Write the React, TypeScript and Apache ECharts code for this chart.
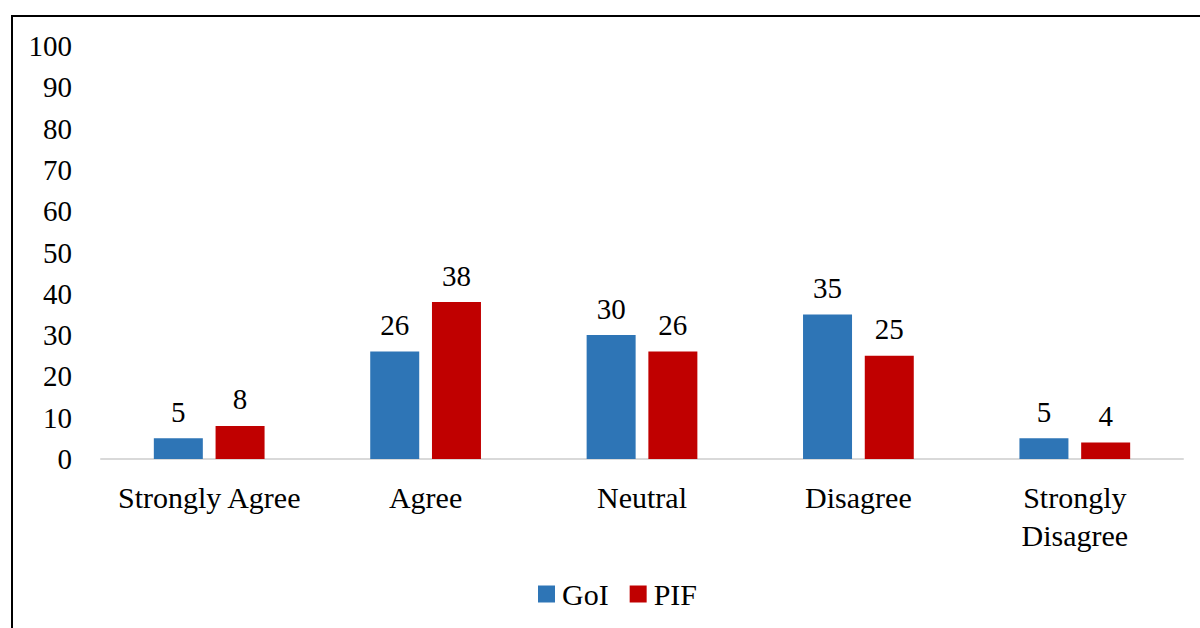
import React, { useEffect, useRef } from "react";
import * as echarts from "echarts";

const categories = ["Strongly Agree", "Agree", "Neutral", "Disagree", "Strongly\nDisagree"];
const goiValues = [5, 26, 30, 35, 5];
const pifValues = [8, 38, 26, 25, 4];
const yTicks = { min: 0, max: 100, interval: 10 };

const FONT = "'Liberation Serif', 'Times New Roman', serif";

export default function App() {
  const ref = useRef<HTMLDivElement>(null);

  useEffect(() => {
    if (!ref.current) return;
    const chart = echarts.init(ref.current, undefined, { renderer: "svg" });
    const labelStyle = {
      show: true,
      position: "top" as const,
      distance: 12,
      color: "#000",
      fontFamily: FONT,
      fontSize: 29,
    };
    chart.setOption({
      animation: false,
      backgroundColor: "#fff",
      graphic: [
        {
          type: "rect",
          shape: { x: 12, y: 16, width: 1400, height: 800 },
          style: { fill: "none", stroke: "#000", lineWidth: 2 },
          silent: true,
        },
      ],
      grid: { left: 101, right: 17, top: 46, bottom: 169, containLabel: false },
      legend: {
        bottom: 14,
        left: 533,
        padding: 5,
        itemWidth: 17,
        itemHeight: 17,
        itemGap: 21,
        icon: "rect",
        textStyle: { fontFamily: FONT, fontSize: 30, color: "#000", padding: [0, 0, 0, 2] },
        data: ["GoI", "PIF"],
      },
      xAxis: {
        type: "category",
        data: categories,
        axisLine: { show: true, lineStyle: { color: "#D9D9D9", width: 2 } },
        axisTick: { show: false },
        axisLabel: {
          color: "#000",
          fontFamily: FONT,
          fontSize: 30,
          margin: 19,
          lineHeight: 38,
          interval: 0,
        },
      },
      yAxis: {
        type: "value",
        min: yTicks.min,
        max: yTicks.max,
        interval: yTicks.interval,
        splitLine: { show: false },
        axisLine: { show: false },
        axisTick: { show: false },
        axisLabel: { color: "#000", fontFamily: FONT, fontSize: 29, margin: 29 },
      },
      series: [
        {
          name: "GoI",
          type: "bar",
          data: goiValues,
          barWidth: 49,
          barGap: "26%",
          itemStyle: { color: "#2E75B6" },
          label: labelStyle,
        },
        {
          name: "PIF",
          type: "bar",
          data: pifValues,
          barWidth: 49,
          barGap: "26%",
          itemStyle: { color: "#C00000" },
          label: labelStyle,
        },
      ],
    });
    return () => chart.dispose();
  }, []);

  return (
    <div
      ref={ref}
      style={{ position: "fixed", left: 0, top: 0, width: 1200, height: 628 }}
    />
  );
}
